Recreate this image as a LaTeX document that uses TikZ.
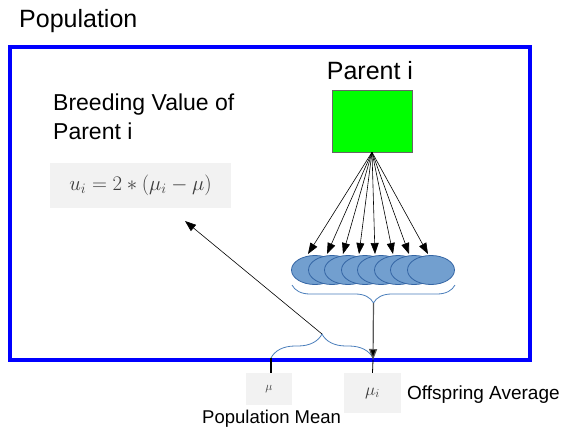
\documentclass[tikz,border=0pt]{standalone}
\usepackage{fontspec}
\setmainfont{Liberation Sans}
\usetikzlibrary{arrows.meta,decorations.pathreplacing,shapes.geometric}
\definecolor{popblue}{RGB}{0,0,255}
\definecolor{offfill}{RGB}{114,159,207}
\definecolor{offdraw}{RGB}{52,101,164}
\definecolor{bracecol}{RGB}{74,126,187}
\definecolor{boxgray}{RGB}{242,242,242}
\definecolor{mathgray}{RGB}{60,60,60}
\tikzset{
  lbl/.style={inner sep=0pt, anchor=base west},
  offspring/.style={ellipse, draw=offdraw, fill=offfill, line width=0.8pt, minimum width=47pt, minimum height=29pt, inner sep=0pt},
  kid/.style={-{Triangle[length=11pt,width=8pt]}, black, line width=0.6pt},
  mathbox/.style={fill=boxgray, inner sep=0pt, text=mathgray},
  brc/.style={draw=bracecol, line width=0.8pt, decorate},
}
\begin{document}
\begin{tikzpicture}[x=1pt,y=-1pt]
\useasboundingbox (0,0) rectangle (566,432);
% population frame
\node[lbl, font=\fontsize{25}{28}\selectfont] (poptitle) at (19,27) {Population};
\draw[popblue, line width=3.5pt] (10,47) rectangle (530,360);
% parent
\node[lbl, anchor=base, font=\fontsize{25}{28}\selectfont] (ptitle) at (370,79) {Parent i};
\node[draw=black!60, line width=0.4pt, fill=green, minimum width=80pt, minimum height=62pt, inner sep=0pt] (parent) at (372,121) {};
% breeding value
\node[lbl, font=\fontsize{23}{26}\selectfont] (bv1) at (53,110) {Breeding Value of};
\node[lbl, font=\fontsize{23}{26}\selectfont] (bv2) at (53,139) {Parent i};
\node[mathbox, minimum width=181pt, minimum height=45pt] (formula) at (140.5,185.5) {\fontsize{21}{24}\selectfont$u_i = 2 * (\mu_i - \mu)$};
% offspring
\foreach \i/\x in {1/315,2/332,3/348,4/365,5/381,6/398,7/414,8/431}{
  \node[offspring] (o\i) at (\x,270) {};
}
\foreach \i/\x in {1/308,2/327,3/343,4/359,5/375,6/393,7/409,8/428}{
  \coordinate (t\i) at (\x,254);
  \draw[kid] (parent.south) -- (t\i);
}
% braces
\coordinate (b1r) at (455,285);
\coordinate (b1l) at (292,285);
\draw[brc, decoration={brace, amplitude=18pt}] (b1r) -- (b1l);
\coordinate (b1tip) at (373.5,303);
\coordinate (b2l) at (271,358);
\coordinate (b2r) at (373,358);
\draw[brc, decoration={brace, amplitude=24pt}] (b2l) -- (b2r);
\coordinate (b2tip) at (322,334);
% labels below
\node[mathbox, minimum width=46pt, minimum height=32pt] (mu) at (269,389) {\fontsize{12}{13}\selectfont$\mu$};
\node[mathbox, minimum width=57pt, minimum height=40pt] (mui) at (372.5,393) {\fontsize{17}{18}\selectfont$\mu_i$};
\node[lbl, font=\fontsize{19}{21}\selectfont] (offavg) at (407,399) {Offspring Average};
\node[lbl, font=\fontsize{18.5}{21}\selectfont] (popmean) at (202,423) {Population Mean};
% connectors
\draw[black!65, line width=1.2pt, -{Triangle[length=11pt,width=8pt,fill=black]}] (b1tip) -- (373,360) coordinate (m1);
\draw[black, line width=0.8pt] (m1) -- (mui.north);
\draw[black, line width=1.2pt] (b2l) -- (mu.north -| b2l);
\draw[black, line width=0.6pt, -{Triangle[length=11pt,width=8pt]}] (b2tip) -- (185,221) coordinate (fa);
\end{tikzpicture}
\end{document}
